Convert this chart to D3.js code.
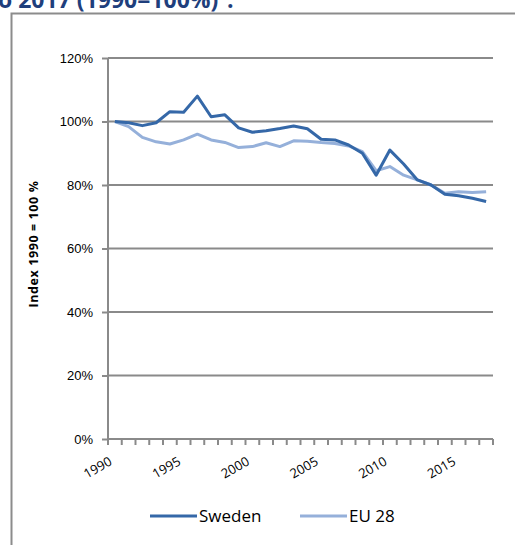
<!DOCTYPE html>
<html>
<head>
<meta charset="utf-8">
<script src="https://cdn.jsdelivr.net/npm/d3@7"></script>
<style>
  body { margin: 0; background: #fff; }
  svg { display: block; font-family: "Open Sans", "DejaVu Sans", sans-serif; }
</style>
</head>
<body>
<svg width="515" height="545"></svg>
<script>
var years = d3.range(1990, 2018);

var sweden = [100, 99.6, 98.7, 99.6, 103.1, 102.9, 108, 101.5, 102.1, 98.0,
              96.6, 97.1, 97.8, 98.6, 97.7, 94.4, 94.2, 92.6, 90.0, 83.1,
              91.0, 86.6, 81.6, 80.0, 77.1, 76.6, 75.8, 74.8];

var eu28 = [100, 98.4, 95.0, 93.6, 92.9, 94.2, 96.0, 94.2, 93.4, 91.8,
            92.1, 93.3, 92.1, 93.9, 93.8, 93.4, 93.1, 92.3, 90.5, 84.5,
            85.8, 83.1, 81.6, 80.0, 77.4, 77.9, 77.6, 77.9];

var yTicks = [0, 20, 40, 60, 80, 100, 120];
var labelYears = [1990, 1995, 2000, 2005, 2010, 2015];

var series = [
  {name: "Sweden", values: sweden, color: "#3568a8"},
  {name: "EU 28", values: eu28, color: "#95b0da"}
];

var svg = d3.select("svg");

var plot = {left: 108, right: 493, top: 58, bottom: 439};

var x = d3.scaleBand().domain(years).range([plot.left, plot.right]);
var y = d3.scaleLinear().domain([0, 120]).range([plot.bottom, plot.top]);

// truncated title from the page above
svg.append("text")
  .attr("x", -2)
  .attr("y", 8)
  .attr("fill", "#1f3f7c")
  .style("font-weight", "bold")
  .style("font-size", "23px")
  .text("o 2017 (1990=100%)\u00b9:");

// outer frame
svg.append("path")
  .attr("d", "M11.5,545 V13.5 H515")
  .attr("fill", "none")
  .attr("stroke", "#8c8c8c")
  .attr("stroke-width", 2);

// gridlines
svg.append("g")
  .selectAll("line")
  .data(yTicks.filter(function(d) { return d > 0; }))
  .enter().append("line")
  .attr("x1", plot.left)
  .attr("x2", plot.right)
  .attr("y1", function(d) { return y(d); })
  .attr("y2", function(d) { return y(d); })
  .attr("stroke", "#8a8a8a")
  .attr("stroke-width", 2);

// y axis
var yAxis = svg.append("g")
  .attr("transform", "translate(" + plot.left + ",0)")
  .call(d3.axisLeft(y).tickValues(yTicks).tickSize(6).tickPadding(9)
    .tickFormat(function(d) { return d + "%"; }));
yAxis.select(".domain").attr("stroke", "#8a8a8a").attr("stroke-width", 2)
  .attr("d", "M0," + plot.top + "V" + plot.bottom);
yAxis.selectAll(".tick line").attr("stroke", "#8a8a8a").attr("stroke-width", 2);
yAxis.selectAll("text").style("font-size", "13px").attr("fill", "#000");

// x axis with category ticks between years
var xg = svg.append("g");
xg.append("line")
  .attr("x1", plot.left).attr("x2", plot.right)
  .attr("y1", plot.bottom).attr("y2", plot.bottom)
  .attr("stroke", "#8a8a8a").attr("stroke-width", 2);
var bounds = years.map(function(d) { return x(d); }).concat([plot.right]);
xg.selectAll(".xt")
  .data(bounds)
  .enter().append("line")
  .attr("x1", function(d) { return d; })
  .attr("x2", function(d) { return d; })
  .attr("y1", plot.bottom)
  .attr("y2", plot.bottom + 6)
  .attr("stroke", "#8a8a8a")
  .attr("stroke-width", 2);
xg.selectAll(".xl")
  .data(labelYears)
  .enter().append("text")
  .attr("text-anchor", "end")
  .attr("transform", function(d) {
    return "translate(" + (x(d) + x.bandwidth() / 2 - 2) + "," + (plot.bottom + 25) + ") rotate(-30)";
  })
  .style("font-size", "13px")
  .text(function(d) { return d; });

// y axis title
svg.append("text")
  .attr("transform", "translate(38,244) rotate(-90)")
  .attr("text-anchor", "middle")
  .style("font-size", "12.5px")
  .style("font-weight", "bold")
  .style("letter-spacing", "0.6px")
  .text("Index 1990 = 100 %");

// lines
var line = d3.line()
  .x(function(d, i) { return x(years[i]) + x.bandwidth() / 2; })
  .y(function(d) { return y(d); });

// draw EU first so Sweden sits on top
series.slice().reverse().forEach(function(s) {
  svg.append("path")
    .attr("d", line(s.values))
    .attr("fill", "none")
    .attr("stroke", s.color)
    .attr("stroke-width", 3)
    .attr("stroke-linejoin", "round");
});

// legend
var legend = svg.append("g");
var legX = [150, 300];
series.forEach(function(s, i) {
  legend.append("line")
    .attr("x1", legX[i]).attr("x2", legX[i] + 47)
    .attr("y1", 516).attr("y2", 516)
    .attr("stroke", s.color)
    .attr("stroke-width", 3);
  legend.append("text")
    .attr("x", legX[i] + 49)
    .attr("y", 522)
    .style("font-size", "17px")
    .text(s.name);
});
</script>
</body>
</html>
